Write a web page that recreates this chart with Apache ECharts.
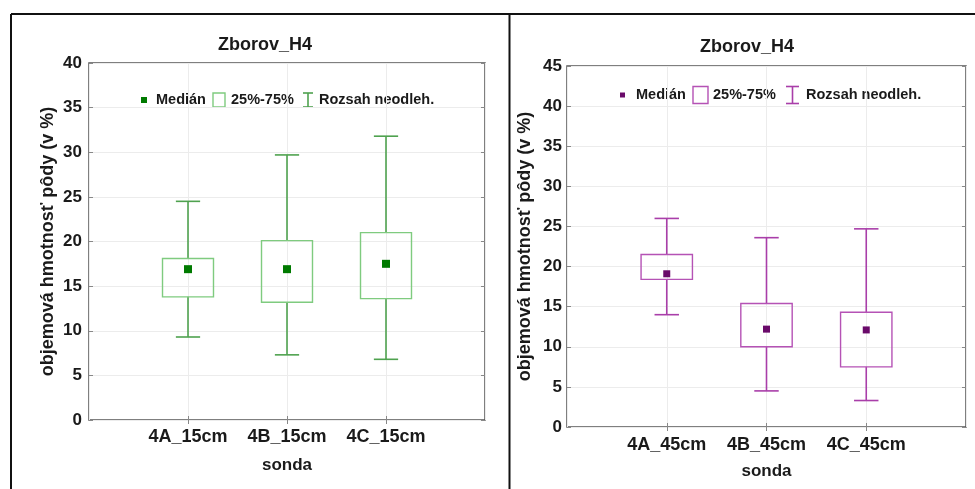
<!DOCTYPE html>
<html>
<head>
<meta charset="utf-8">
<script src="https://cdn.jsdelivr.net/npm/echarts@6/dist/echarts.min.js"></script>
<style>
  html, body { margin: 0; padding: 0; background: #fff; }
  #chart { width: 975px; height: 489px; }
</style>
</head>
<body>
<div id="chart"></div>
<script>
// Sonda Zborov_H4: volumetric soil moisture, two depths
const cats15 = ['4A_15cm', '4B_15cm', '4C_15cm'];
const min15 = [9.3, 7.3, 6.8];
const q1_15 = [13.8, 13.2, 13.6];
const med15 = [16.9, 16.9, 17.5];
const q3_15 = [18.1, 20.1, 21.0];
const max15 = [24.5, 29.7, 31.8];

const cats45 = ['4A_45cm', '4B_45cm', '4C_45cm'];
const min45 = [14.0, 4.5, 3.3];
const q1_45 = [18.4, 10.0, 7.5];
const med45 = [19.1, 12.2, 12.1];
const q3_45 = [21.5, 15.4, 14.3];
const max45 = [26.0, 23.6, 24.7];

const yTicks15 = { min: 0, max: 40, interval: 5 };
const yTicks45 = { min: 0, max: 45, interval: 5 };

const FONT = "'Liberation Sans', Arial, sans-serif";
const TEXT = '#1a1a1a';
const GREEN = { whisker: '#4fa24f', box: '#7fcb7f', median: '#007a00' };
const PURPLE = { whisker: '#a93ea9', box: '#b552b5', median: '#6a0a6a' };

// category axis padded with empty slots so the three probes sit at 1/4, 2/4, 3/4
const padCats = c => ['', ...c, ''];
const innerTick = (i) => i > 0 && i < 4;

function boxRender(color) {
  return function (params, api) {
    const x = api.value(0);
    const pMin = api.coord([x, api.value(1)]);
    const pQ1 = api.coord([x, api.value(2)]);
    const pQ3 = api.coord([x, api.value(3)]);
    const pMax = api.coord([x, api.value(4)]);
    const band = api.size([1, 0])[0];
    const bw = band * 0.515;
    const cw = band * 0.245;
    const cx = pMin[0];
    const ls = { stroke: color.whisker, lineWidth: 1.6, fill: null };
    return {
      type: 'group',
      children: [
        { type: 'line', shape: { x1: cx, y1: pMax[1], x2: cx, y2: pQ3[1] }, style: ls },
        { type: 'line', shape: { x1: cx, y1: pQ1[1], x2: cx, y2: pMin[1] }, style: ls },
        { type: 'line', shape: { x1: cx - cw / 2, y1: pMax[1], x2: cx + cw / 2, y2: pMax[1] }, style: ls },
        { type: 'line', shape: { x1: cx - cw / 2, y1: pMin[1], x2: cx + cw / 2, y2: pMin[1] }, style: ls },
        { type: 'rect', shape: { x: cx - bw / 2, y: pQ3[1], width: bw, height: pQ1[1] - pQ3[1] },
          style: { stroke: color.box, lineWidth: 1.4, fill: null } }
      ]
    };
  };
}

function panelAxes(gi, cats, yt, nameGapY, nameGapX, labelMargin, yLabelMargin) {
  return {
    x: [
      {
        type: 'category', gridIndex: gi, data: padCats(cats), boundaryGap: false,
        axisLine: { show: false },
        axisTick: { show: true, inside: true, length: 4, interval: innerTick, lineStyle: { color: '#888' } },
        axisLabel: { interval: 0, margin: labelMargin, color: TEXT, fontSize: 18, fontWeight: 'bold', fontFamily: FONT },
        splitLine: { show: true, lineStyle: { color: '#ececec', width: 1 } },
        name: 'sonda', nameLocation: 'middle', nameGap: nameGapX,
        nameTextStyle: { color: TEXT, fontSize: 17, fontWeight: 'bold', fontFamily: FONT }
      },
      {
        type: 'category', gridIndex: gi, position: 'top', data: padCats(cats), boundaryGap: false,
        axisLine: { show: false },
        axisTick: { show: true, inside: true, length: 4, interval: innerTick, lineStyle: { color: '#888' } },
        axisLabel: { show: false }, splitLine: { show: false }
      }
    ],
    y: [
      {
        type: 'value', gridIndex: gi, min: yt.min, max: yt.max, interval: yt.interval,
        axisLine: { show: false },
        axisTick: { show: true, inside: true, length: 4, lineStyle: { color: '#888' } },
        axisLabel: { margin: yLabelMargin, color: TEXT, fontSize: 17, fontWeight: 'bold', fontFamily: FONT },
        splitLine: { show: true, lineStyle: { color: '#ececec', width: 1 } },
        name: 'objemová hmotnosť pôdy (v %)', nameLocation: 'middle', nameGap: nameGapY,
        nameTextStyle: { color: TEXT, fontSize: 18, fontWeight: 'bold', fontFamily: FONT }
      },
      {
        type: 'value', gridIndex: gi, position: 'right', min: yt.min, max: yt.max, interval: yt.interval,
        axisLine: { show: false },
        axisTick: { show: true, inside: true, length: 4, lineStyle: { color: '#888' } },
        axisLabel: { show: false }, splitLine: { show: false }
      }
    ]
  };
}

const a0 = panelAxes(0, cats15, yTicks15, 32, 37, 8, 7);
const a1 = panelAxes(1, cats45, yTicks45, 33, 36, 9, 5);

const boxData15 = cats15.map((c, i) => [c, min15[i], q1_15[i], q3_15[i], max15[i]]);
const boxData45 = cats45.map((c, i) => [c, min45[i], q1_45[i], q3_45[i], max45[i]]);
const medData15 = cats15.map((c, i) => [c, med15[i]]);
const medData45 = cats45.map((c, i) => [c, med45[i]]);

// legend drawn as plain shapes and text
function legend(x0, cy, color, sizes) {
  const ts = { fill: TEXT, font: `bold ${sizes.font}px ${FONT}`, textVerticalAlign: 'middle', verticalAlign: 'middle' };
  const m = sizes.marker;
  return [
    { type: 'rect', shape: { x: x0 + sizes.mx, y: cy - m / 2, width: m, height: m }, style: { fill: color.median } },
    { type: 'text', x: x0 + sizes.t1, y: cy, style: Object.assign({ text: 'Medián' }, ts) },
    { type: 'rect', shape: { x: x0 + sizes.bx, y: cy - sizes.bh / 2, width: sizes.bw, height: sizes.bh },
      style: { fill: null, stroke: color.box, lineWidth: 1.4 } },
    { type: 'text', x: x0 + sizes.t2, y: cy, style: Object.assign({ text: '25%-75%' }, ts) },
    { type: 'line', shape: { x1: x0 + sizes.wx, y1: cy - sizes.bh / 2, x2: x0 + sizes.wx + sizes.ww, y2: cy - sizes.bh / 2 },
      style: { stroke: color.whisker, lineWidth: 1.6 } },
    { type: 'line', shape: { x1: x0 + sizes.wx, y1: cy + sizes.bh / 2, x2: x0 + sizes.wx + sizes.ww, y2: cy + sizes.bh / 2 },
      style: { stroke: color.whisker, lineWidth: 1.6 } },
    { type: 'line', shape: { x1: x0 + sizes.wx + sizes.ww / 2, y1: cy - sizes.bh / 2, x2: x0 + sizes.wx + sizes.ww / 2, y2: cy + sizes.bh / 2 },
      style: { stroke: color.whisker, lineWidth: 1.6 } },
    { type: 'text', x: x0 + sizes.t3, y: cy, style: Object.assign({ text: 'Rozsah neodleh.' }, ts) }
  ];
}

const chart = echarts.init(document.getElementById('chart'), null, { renderer: 'canvas' });

chart.setOption({
  backgroundColor: '#fff',
  animation: false,
  title: [
    { text: 'Zborov_H4', left: 260, top: 31, textAlign: 'center',
      textStyle: { color: TEXT, fontSize: 18, fontWeight: 'bold', fontFamily: FONT } },
    { text: 'Zborov_H4', left: 742, top: 33, textAlign: 'center',
      textStyle: { color: TEXT, fontSize: 18, fontWeight: 'bold', fontFamily: FONT } }
  ],
  grid: [
    { left: 89, top: 63, width: 396, height: 357, show: true, borderColor: '#555', borderWidth: 1.5, backgroundColor: 'transparent' },
    { left: 567, top: 66, width: 399, height: 361, show: true, borderColor: '#555', borderWidth: 1.5, backgroundColor: 'transparent' }
  ],
  xAxis: [...a0.x, ...a1.x],
  yAxis: [...a0.y, ...a1.y],
  series: [
    { type: 'custom', xAxisIndex: 0, yAxisIndex: 0, data: boxData15, renderItem: boxRender(GREEN), z: 3 },
    { type: 'scatter', xAxisIndex: 0, yAxisIndex: 0, data: medData15, symbol: 'rect', symbolSize: 8,
      itemStyle: { color: GREEN.median, opacity: 1 }, z: 4 },
    { type: 'custom', xAxisIndex: 2, yAxisIndex: 2, data: boxData45, renderItem: boxRender(PURPLE), z: 3 },
    { type: 'scatter', xAxisIndex: 2, yAxisIndex: 2, data: medData45, symbol: 'rect', symbolSize: 7,
      itemStyle: { color: PURPLE.median, opacity: 1 }, z: 4 }
  ],
  graphic: [
    // panel frames
    { type: 'line', shape: { x1: 11, y1: 14, x2: 975, y2: 14 }, style: { stroke: '#111', lineWidth: 2 } },
    { type: 'line', shape: { x1: 11, y1: 14, x2: 11, y2: 489 }, style: { stroke: '#111', lineWidth: 2 } },
    { type: 'line', shape: { x1: 509.5, y1: 14, x2: 509.5, y2: 489 }, style: { stroke: '#111', lineWidth: 2 } },
    ...legend(0, 100, GREEN, { font: 14.5, marker: 6, mx: 141, t1: 156, bx: 213, bw: 12, bh: 14, t2: 231, wx: 303, ww: 10, t3: 319 }),
    ...legend(0, 95, PURPLE, { font: 14.5, marker: 5, mx: 620, t1: 636, bx: 693, bw: 15, bh: 17, t2: 713, wx: 786, ww: 13, t3: 806 })
  ]
});
</script>
</body>
</html>
